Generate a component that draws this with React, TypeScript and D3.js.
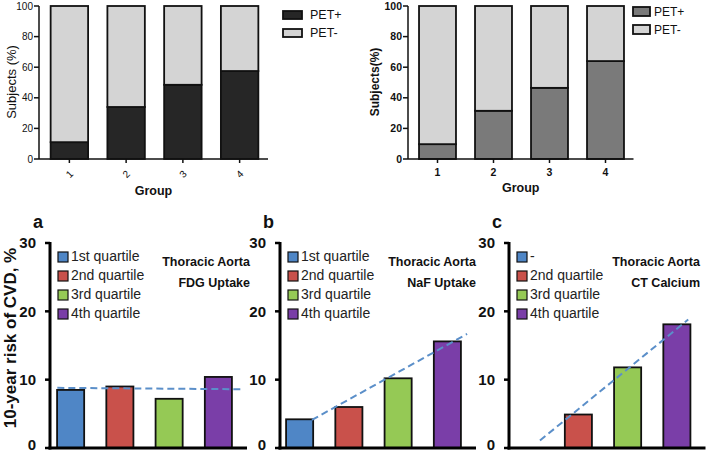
import React from "react";
import * as d3 from "d3";

// ---------- data ----------
const groups = ["1", "2", "3", "4"];
const petPosLeft = [11, 34, 48.5, 57.5];
const petPosRight = [9.7, 31.5, 46.5, 64];
const petLegend = ["PET+", "PET-"];
const pctTicks = [0, 20, 40, 60, 80, 100];

const quartileLabels = ["1st quartile", "2nd quartile", "3rd quartile", "4th quartile"];
const quartileLabelsC = ["-", "2nd quartile", "3rd quartile", "4th quartile"];
const quartileColors = ["#4f86c6", "#c9514b", "#95c955", "#7a3ea8"];
const fdgRisk = [8.5, 9.0, 7.2, 10.4];
const nafRisk = [4.2, 6.0, 10.2, 15.6];
const ctRisk = [0, 4.9, 11.8, 18.1];
const riskTicks = [0, 10, 20, 30];
// trend lines: [category index, value]
const fdgTrend: [number, number][] = [[-0.27, 8.8], [3.5, 8.6]];
const nafTrend: [number, number][] = [[0.25, 4.1], [3.4, 16.7]];
const ctTrend: [number, number][] = [[0.22, 1.1], [3.23, 18.8]];

const FONT = "Arial, 'Liberation Sans', Helvetica, sans-serif";

type StackProps = {
  pos: number[];
  axisX: number;
  range: [number, number];
  darkFill: string;
  rotate: boolean;
  tickBold: boolean;
  tickSize: number;
  yTitle: string;
  yTitleX: number;
  yTitleBold: boolean;
  yTitleSize: number;
  legendX: number;
  legendYs: number[];
  legendW: number;
  legendH: number;
  legendGap: number;
  legendSize: number;
  groupY: number;
};

function StackChart(p: StackProps) {
  const y = d3.scaleLinear().domain([0, 100]).range([159, 6]);
  const x = d3.scaleBand<string>().domain(groups).range(p.range).paddingInner(0.34).paddingOuter(0.17);
  const rows = groups.map((g, i) => ({ g, pos: p.pos[i], neg: 100 - p.pos[i] }));
  const stack = d3.stack<any>().keys(["pos", "neg"])(rows);
  const fills = [p.darkFill, "#d4d4d4"];
  const xEnd = p.range[1];
  return (
    <g fontFamily={FONT}>
      {stack.map((layer, li) =>
        layer.map((d, i) => (
          <rect
            key={li + "-" + i}
            x={x(groups[i])!}
            y={y(d[1])}
            width={x.bandwidth()}
            height={y(d[0]) - y(d[1])}
            fill={fills[li]}
            stroke="#111"
            strokeWidth={1.8}
          />
        ))
      )}
      <line x1={p.axisX} x2={p.axisX} y1={6} y2={159} stroke="#111" strokeWidth={1.5} />
      <line x1={p.axisX} x2={xEnd} y1={159} y2={159} stroke="#111" strokeWidth={1.5} />
      {pctTicks.map((t) => (
        <g key={t}>
          <line x1={p.axisX - 5} x2={p.axisX} y1={y(t)} y2={y(t)} stroke="#111" strokeWidth={1.5} />
          <text
            x={p.axisX - 6}
            y={y(t)}
            dy="0.35em"
            textAnchor="end"
            fontSize={p.tickSize}
            fontWeight={p.tickBold ? "bold" : "normal"}
            fill="#111"
          >
            {t}
          </text>
        </g>
      ))}
      {groups.map((g) => {
        const cx = x(g)! + x.bandwidth() / 2;
        return (
          <g key={g}>
            <line x1={cx} x2={cx} y1={159} y2={163} stroke="#111" strokeWidth={1.5} />
            {p.rotate ? (
              <text
                transform={`translate(${cx},174) rotate(-45)`}
                textAnchor="middle"
                dy="0.35em"
                fontSize={p.tickSize}
                fill="#111"
              >
                {g}
              </text>
            ) : (
              <text x={cx} y={176} textAnchor="middle" fontSize={p.tickSize} fontWeight="bold" fill="#111">
                {g}
              </text>
            )}
          </g>
        );
      })}
      <text
        x={(p.axisX + xEnd) / 2}
        y={p.groupY}
        textAnchor="middle"
        fontSize={12.5}
        fontWeight="bold"
        fill="#111"
      >
        Group
      </text>
      <text
        transform={`translate(${p.yTitleX},82) rotate(-90)`}
        textAnchor="middle"
        fontSize={p.yTitleSize}
        fontWeight={p.yTitleBold ? "bold" : "normal"}
        fill="#111"
      >
        {p.yTitle}
      </text>
      {petLegend.map((l, i) => (
        <g key={l}>
          <rect
            x={p.legendX}
            y={p.legendYs[i]}
            width={p.legendW}
            height={p.legendH}
            fill={fills[i]}
            stroke="#111"
            strokeWidth={1.8}
          />
          <text
            x={p.legendX + p.legendW + p.legendGap}
            y={p.legendYs[i] + p.legendH / 2}
            dy="0.35em"
            fontSize={p.legendSize}
            fill="#111"
          >
            {l}
          </text>
        </g>
      ))}
    </g>
  );
}

type RiskProps = {
  letter: string;
  values: number[];
  labels: string[];
  trend: [number, number][];
  axisX: number;
  range: [number, number];
  titleRight: number;
  title2: string;
  showYTitle: boolean;
};

function RiskPanel(p: RiskProps) {
  const y = d3.scaleLinear().domain([0, 30]).range([448, 243]);
  const x = d3.scaleBand<string>().domain(groups).range(p.range).paddingInner(0.45).paddingOuter(0.225);
  const step = x.step();
  const c0 = x(groups[0])! + x.bandwidth() / 2;
  const idx = d3.scaleLinear().domain([0, 1]).range([c0, c0 + step]);
  const line = d3
    .line<[number, number]>()
    .x((d) => idx(d[0]))
    .y((d) => y(d[1]));
  const xEnd = p.range[1] + 4;
  return (
    <g fontFamily={FONT}>
      {p.values.map((v, i) =>
        v > 0 ? (
          <rect
            key={i}
            x={x(groups[i])!}
            y={y(v)}
            width={x.bandwidth()}
            height={y(0) - y(v)}
            fill={quartileColors[i]}
            stroke="#111"
            strokeWidth={1.8}
          />
        ) : null
      )}
      <path d={line(p.trend)!} fill="none" stroke="#5b8fc9" strokeWidth={2} strokeDasharray="7,4" />
      <line x1={p.axisX} x2={p.axisX} y1={242} y2={449.5} stroke="#000" strokeWidth={3} />
      <line x1={p.axisX - 1.5} x2={xEnd} y1={448} y2={448} stroke="#000" strokeWidth={3} />
      {riskTicks.map((t) => (
        <g key={t}>
          <line x1={p.axisX - 5} x2={p.axisX} y1={y(t)} y2={y(t)} stroke="#000" strokeWidth={2.5} />
          <text
            x={p.axisX - 14}
            y={y(t)}
            dy={t === 0 ? "0.15em" : "0.36em"}
            textAnchor="end"
            fontSize={15}
            fontWeight="bold"
            fill="#111"
          >
            {t}
          </text>
        </g>
      ))}
      <text x={p.axisX - 17} y={228} fontSize={18} fontWeight="bold" fill="#111">
        {p.letter}
      </text>
      {p.labels.map((l, i) => (
        <g key={i}>
          <rect
            x={p.axisX + 8}
            y={252 + i * 19}
            width={10}
            height={10}
            fill={quartileColors[i]}
            stroke="#111"
            strokeWidth={1.2}
          />
          <text x={p.axisX + 21} y={261 + i * 19} fontSize={14} fill="#222">
            {l}
          </text>
        </g>
      ))}
      <text x={p.titleRight} y={266} textAnchor="end" fontSize={12.5} fontWeight="bold" fill="#111">
        Thoracic Aorta
      </text>
      <text x={p.titleRight} y={287} textAnchor="end" fontSize={12.5} fontWeight="bold" fill="#111">
        {p.title2}
      </text>
      {p.showYTitle ? (
        <text
          transform={`translate(16,338) rotate(-90)`}
          textAnchor="middle"
          fontSize={17}
          fontWeight="bold"
          fill="#111"
        >
          10-year risk of CVD, %
        </text>
      ) : null}
    </g>
  );
}

export default function App() {
  return (
    <svg
      width={706}
      height={453}
      style={{ position: "absolute", left: 0, top: 0, background: "#fff" }}
    >
      <rect width={706} height={453} fill="#fff" />
      <StackChart
        pos={petPosLeft}
        axisX={39}
        range={[41, 268]}
        darkFill="#262626"
        rotate={true}
        tickBold={false}
        tickSize={10}
        yTitle="Subjects (%)"
        yTitleX={16}
        yTitleBold={false}
        yTitleSize={13}
        legendX={283}
        legendYs={[11, 29]}
        legendW={19}
        legendH={8}
        legendGap={8}
        legendSize={12.5}
        groupY={195}
      />
      <StackChart
        pos={petPosRight}
        axisX={408}
        range={[409.5, 633.5]}
        darkFill="#7a7a7a"
        rotate={false}
        tickBold={true}
        tickSize={10.5}
        yTitle="Subjects(%)"
        yTitleX={379}
        yTitleBold={true}
        yTitleSize={12}
        legendX={633}
        legendYs={[7, 25]}
        legendW={17}
        legendH={9}
        legendGap={4}
        legendSize={12}
        groupY={192}
      />
      <RiskPanel
        letter="a"
        values={fdgRisk}
        labels={quartileLabels}
        trend={fdgTrend}
        axisX={50}
        range={[46, 243]}
        titleRight={250}
        title2="FDG Uptake"
        showYTitle={true}
      />
      <RiskPanel
        letter="b"
        values={nafRisk}
        labels={quartileLabels}
        trend={nafTrend}
        axisX={280}
        range={[275, 472]}
        titleRight={476}
        title2="NaF Uptake"
        showYTitle={false}
      />
      <RiskPanel
        letter="c"
        values={ctRisk}
        labels={quartileLabelsC}
        trend={ctTrend}
        axisX={509}
        range={[504.5, 701.5]}
        titleRight={700}
        title2="CT Calcium"
        showYTitle={false}
      />
    </svg>
  );
}
